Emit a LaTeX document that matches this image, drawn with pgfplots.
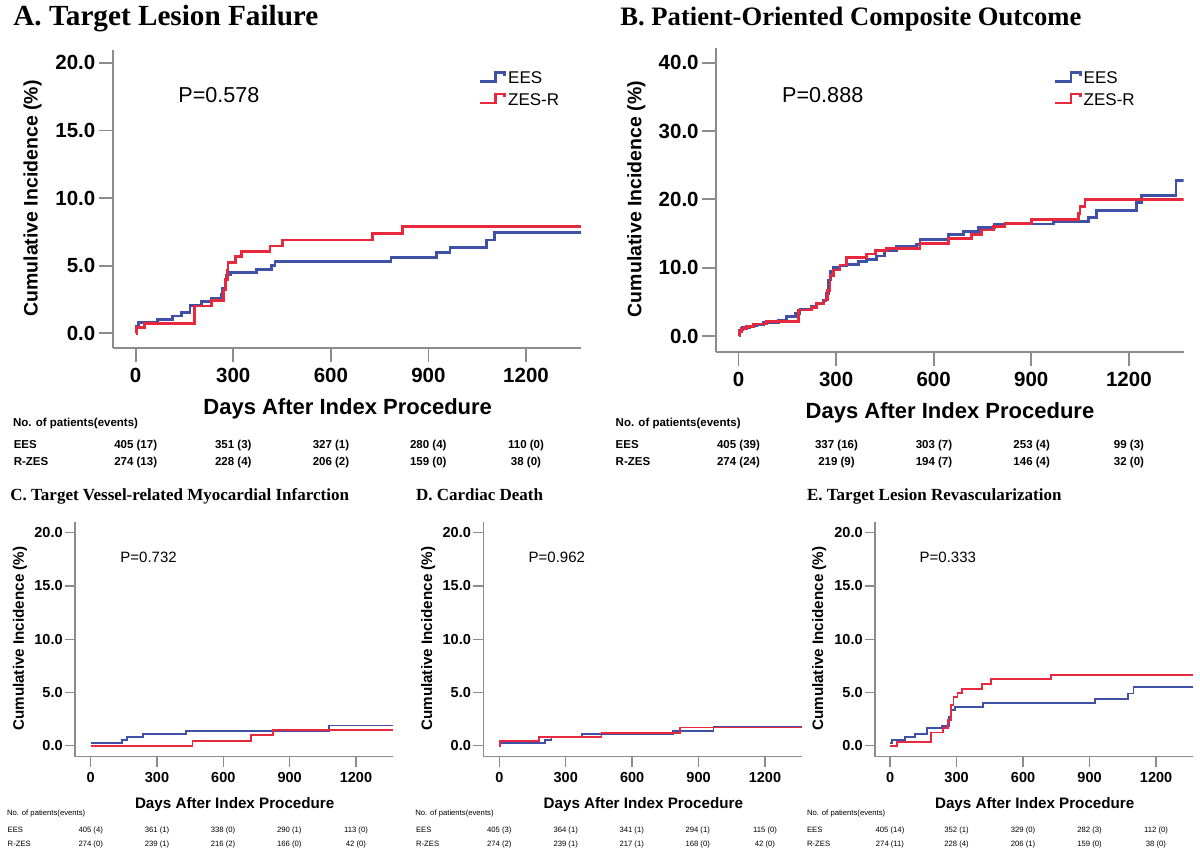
\documentclass[border=0pt]{standalone}
\usepackage{fontspec}
\setmainfont{Liberation Sans}
\newfontfamily\titlefont{Liberation Serif}
\usepackage{pgfplots}
\pgfplotsset{compat=1.18}

\definecolor{ees}{HTML}{3F51A6}
\definecolor{zes}{HTML}{E8283C}
\definecolor{axgray}{HTML}{8C8C8C}

\newcommand\fs[1]{\fontsize{#1}{1.2\dimexpr#1pt\relax}\selectfont}

\pgfplotsset{
  km/.style={
    scale only axis, anchor=south west,
    axis x line*=bottom, axis y line*=left,
    axis line style={axgray},
    every tick/.style={axgray},
    tick align=outside,
    xtick={0,300,600,900,1200},
    /pgf/number format/assume math mode=true,
    xticklabel style={/pgf/number format/1000 sep={}, inner sep=0pt},
    yticklabel style={/pgf/number format/fixed, /pgf/number format/fixed zerofill,
      /pgf/number format/precision=1, inner sep=0pt},
    legend cell align=left,
    legend image code/.code={\draw[##1] (0pt,-1.05pt) -- (7.8pt,-1.05pt) -- (7.8pt,3.45pt)
      -- (12.5pt,3.45pt) -- (12.5pt,1.95pt);},
  },
  big/.style={km, ymin=-1.065, ymax=20.95, ytick={0,5,10,15,20},
    axis line style={line width=0.9pt}, every tick/.append style={line width=0.9pt},
    major tick length=7pt,
    ticklabel style={font=\bfseries\fs{10.25}},
    xticklabel style={yshift=-3pt}, yticklabel style={xshift=-1.5pt},
    legend style={draw=none, fill=none, anchor=west, inner sep=0pt, row sep=1.3pt,
      font=\fs{8.5}, nodes={inner sep=1pt}},
  },
  small/.style={km, ymin=-1.03, ymax=21.03, ytick={0,5,10,15,20},
    width=159.15pt, height=117.5pt, xmax=1369,
    axis line style={line width=0.7pt}, every tick/.append style={line width=0.7pt},
    major tick length=5pt,
    ticklabel style={font=\bfseries\fs{7.25}},
    xticklabel style={yshift=-2.4pt}, yticklabel style={xshift=-1pt},
  },
  eesA/.style={const plot, ees, line width=1.4pt},
  zesA/.style={const plot, zes, line width=1.4pt},
  eesC/.style={const plot, ees, line width=0.9pt},
  zesC/.style={const plot, zes, line width=0.9pt},
}

\begin{document}
\begin{tikzpicture}
\path[use as bounding box] (0,0) rectangle (600pt,-430.5pt);

% ---------- A. Target Lesion Failure
\begin{axis}[big, at={(56.35pt,-173.85pt)}, width=234.15pt, height=148.85pt,
  xmin=-70.7, xmax=1369, legend style={at={(0.780,0.865)}}]
\addplot[eesA] coordinates {(0,0.25) (3,0.54) (8,0.79) (67,1.04) (114,1.28) (141,1.53)
  (167,2.05) (203,2.34) (232,2.59) (264,2.9) (268,3.33) (276,3.94) (280,4.31) (292,4.51)
  (372,4.73) (418,5.0) (428,5.3) (785,5.6) (925,5.97) (966,6.34) (1079,6.9) (1103,7.45) (1369,7.45)};
\addlegendentry{EES}
\addplot[zesA] coordinates {(0,0) (3,0.44) (28,0.74) (182,2.02) (234,2.42) (270,3.2) (276,4.0)
  (281,4.68) (284,5.23) (308,5.67) (326,6.04) (413,6.46) (452,6.9) (728,7.4) (821,7.89) (1369,7.89)};
\addlegendentry{ZES-R}
\end{axis}

% ---------- B. Patient-Oriented Composite Outcome
\begin{axis}[big, at={(358pt,-175.85pt)}, width=233.75pt, height=151.7pt,
  xmin=-69.2, xmax=1368, ymin=-2.3, ymax=42.1, ytick={0,10,20,30,40},
  legend style={at={(0.722,0.862)}}]
\addplot[eesA] coordinates {(0,0.15) (3,0.88) (13,1.27) (35,1.46) (56,1.6) (76,1.95) (122,2.34)
  (148,2.83) (174,3.3) (189,3.9) (225,4.4) (240,4.8) (261,5.2) (269,6.2) (276,8.2) (283,9.4)
  (293,10.05) (312,10.24) (332,10.5) (368,10.9) (394,11.2) (425,11.7) (450,12.5) (486,13.1)
  (548,13.4) (558,14.15) (645,14.8) (691,15.3) (737,15.85) (788,16.4) (968,16.7) (1075,17.3)
  (1101,18.4) (1224,19.5) (1239,20.6) (1345,22.7) (1368,22.7)};
\addlegendentry{EES}
\addplot[zesA] coordinates {(0,0) (3,0.63) (10,1.1) (25,1.37) (45,1.76) (87,2.1) (184,3.8)
  (225,4.15) (240,4.7) (263,5.27) (273,6.7) (281,8.9) (291,9.65) (312,10.4) (332,11.5)
  (394,12.0) (420,12.5) (455,12.8) (558,13.56) (645,14.3) (717,14.8) (748,15.5) (783,16.0)
  (819,16.5) (901,17.07) (1045,17.95) (1050,18.9) (1065,20.0) (1368,20.0)};
\addlegendentry{ZES-R}
\end{axis}

% ---------- C. Target Vessel-related MI
\begin{axis}[small, at={(37.5pt,-378.35pt)}, xmin=-71]
\addplot[eesC] coordinates {(0,0.28) (140,0.53) (166,0.85) (235,1.1) (430,1.4) (1079,1.9) (1369,1.9)};
\addplot[zesC] coordinates {(0,0) (461,0.47) (725,0.97) (823,1.44) (1369,1.44)};
\end{axis}

% ---------- D. Cardiac Death
\begin{axis}[small, at={(241.65pt,-378.35pt)}, width=159.55pt, xmin=-72.3]
\addplot[eesC] coordinates {(0,0.22) (206,0.53) (236,0.78) (372,1.1) (786,1.41) (967,1.78) (1369,1.78)};
\addplot[zesC] coordinates {(0,0) (3,0.44) (181,0.85) (462,1.22) (816,1.72) (1369,1.72)};
\end{axis}

% ---------- E. Target Lesion Revascularization
\begin{axis}[small, at={(437.5pt,-378.35pt)}, xmin=-67.8, xmax=1368]
\addplot[eesC] coordinates {(0,0.22) (8,0.53) (68,0.85) (113,1.1) (165,1.63) (233,1.88) (266,2.72)
  (275,3.35) (293,3.66) (421,4.04) (925,4.38) (1075,4.91) (1098,5.54) (1368,5.54)};
\addplot[zesC] coordinates {(0,0) (30,0.38) (183,1.25) (238,1.69) (263,2.4) (275,3.8) (286,4.54)
  (304,4.98) (326,5.35) (414,5.79) (454,6.26) (725,6.64) (1368,6.64)};
\end{axis}

% ---------- text, in pixel units of the 1200x861 figure
\begin{scope}[x=0.5pt, y=-0.5pt, every node/.style={inner sep=0pt}]
  \tikzset{
    ttls/.style={anchor=base west, font=\titlefont\bfseries\fs{8.5}},
    pv/.style={anchor=base west, font=\fs{10.8}},
    pvs/.style={anchor=base west, font=\fs{7.5}},
    xl/.style={anchor=base, font=\bfseries\fs{11}},
    yl/.style={rotate=90, font=\bfseries\fs{9.75}},
    xls/.style={anchor=base, font=\bfseries\fs{7.6}},
    yls/.style={rotate=90, font=\bfseries\fs{7.6}},
    tb/.style={anchor=base, font=\bfseries\fs{5.75}},
    tbl/.style={anchor=base west, font=\bfseries\fs{5.75}},
    ts/.style={anchor=base, font=\fs{3.85}},
    tsl/.style={anchor=base west, font=\fs{3.85}},
  }
  % titles
  \node[anchor=base west, font=\titlefont\bfseries\fs{14.6}] at (13,26) {A. Target Lesion Failure};
  \node[anchor=base west, font=\titlefont\bfseries\fs{13.3}] at (620,26) {B. Patient-Oriented Composite Outcome};
  \node[ttls] at (10,500.7) {C. Target Vessel-related Myocardial Infarction};
  \node[ttls] at (415.7,500.7) {D. Cardiac Death};
  \node[ttls] at (806.7,500.7) {E. Target Lesion Revascularization};
  % p values
  \node[pv] at (178,102.5) {P=0.578};
  \node[pv] at (781.8,102.5) {P=0.888};
  \node[pvs] at (120,562.1) {P=0.732};
  \node[pvs] at (528.3,562.1) {P=0.962};
  \node[pvs] at (919.3,562.1) {P=0.333};
  % axis labels
  \node[xl] at (347.7,414.6) {Days After Index Procedure};
  \node[xl] at (950,418.9) {Days After Index Procedure};
  \node[yl] at (32.5,198.5) {Cumulative Incidence (\%)};
  \node[yl] at (636.4,199) {Cumulative Incidence (\%)};
  \node[xls] at (234.7,808.1) {Days After Index Procedure};
  \node[xls] at (643.3,808.1) {Days After Index Procedure};
  \node[xls] at (1034.7,808.1) {Days After Index Procedure};
  \node[yls] at (20,638.7) {Cumulative Incidence (\%)};
  \node[yls] at (428.3,638.7) {Cumulative Incidence (\%)};
  \node[yls] at (819.3,638.7) {Cumulative Incidence (\%)};

  % number-at-risk tables, A
  \node[tbl] at (12.6,426.4) {No. of patients(events)};
  \node[tbl] at (13.4,448.1) {EES};
  \node[tbl] at (13.4,465.6) {R-ZES};
  \foreach \x/\v in {135.7/{405 (17)},233.3/{351 (3)},331/{327 (1)},428.3/{280 (4)},526/{110 (0)}}
    \node[tb] at (\x,448.1) {\v};
  \foreach \x/\v in {135.7/{274 (13)},233.3/{228 (4)},331/{206 (2)},428.3/{159 (0)},526/{38 (0)}}
    \node[tb] at (\x,465.6) {\v};
  % B
  \node[tbl] at (615.3,426.4) {No. of patients(events)};
  \node[tbl] at (615.3,448.1) {EES};
  \node[tbl] at (615.3,465.6) {R-ZES};
  \foreach \x/\v in {738.5/{405 (39)},836.5/{337 (16)},934/{303 (7)},1031.7/{253 (4)},1129/{99 (3)}}
    \node[tb] at (\x,448.1) {\v};
  \foreach \x/\v in {738.5/{274 (24)},836.5/{219 (9)},934/{194 (7)},1031.7/{146 (4)},1129/{32 (0)}}
    \node[tb] at (\x,465.6) {\v};
  % C
  \node[tsl] at (6.7,815.1) {No. of patients(events)};
  \node[tsl] at (7.3,832.1) {EES};
  \node[tsl] at (7.3,846.1) {R-ZES};
  \foreach \x/\v in {90.7/{405 (4)},157/{361 (1)},223/{338 (0)},289.3/{290 (1)},356/{113 (0)}}
    \node[ts] at (\x,832.1) {\v};
  \foreach \x/\v in {90.7/{274 (0)},157/{239 (1)},223/{216 (2)},289.3/{166 (0)},356/{42 (0)}}
    \node[ts] at (\x,846.1) {\v};
  % D
  \node[tsl] at (415,815.1) {No. of patients(events)};
  \node[tsl] at (415.7,832.1) {EES};
  \node[tsl] at (415.7,846.1) {R-ZES};
  \foreach \x/\v in {499.3/{405 (3)},565.7/{364 (1)},631.7/{341 (1)},697.7/{294 (1)},765/{115 (0)}}
    \node[ts] at (\x,832.1) {\v};
  \foreach \x/\v in {499.3/{274 (2)},565.7/{239 (1)},631.7/{217 (1)},697.7/{168 (0)},765/{42 (0)}}
    \node[ts] at (\x,846.1) {\v};
  % E
  \node[tsl] at (806.7,815.1) {No. of patients(events)};
  \node[tsl] at (806.7,832.1) {EES};
  \node[tsl] at (806.7,846.1) {R-ZES};
  \foreach \x/\v in {890/{405 (14)},956.5/{352 (1)},1023/{329 (0)},1089.5/{282 (3)},1156/{112 (0)}}
    \node[ts] at (\x,832.1) {\v};
  \foreach \x/\v in {890/{274 (11)},956.5/{228 (4)},1023/{206 (1)},1089.5/{159 (0)},1156/{38 (0)}}
    \node[ts] at (\x,846.1) {\v};
\end{scope}
\end{tikzpicture}
\end{document}
